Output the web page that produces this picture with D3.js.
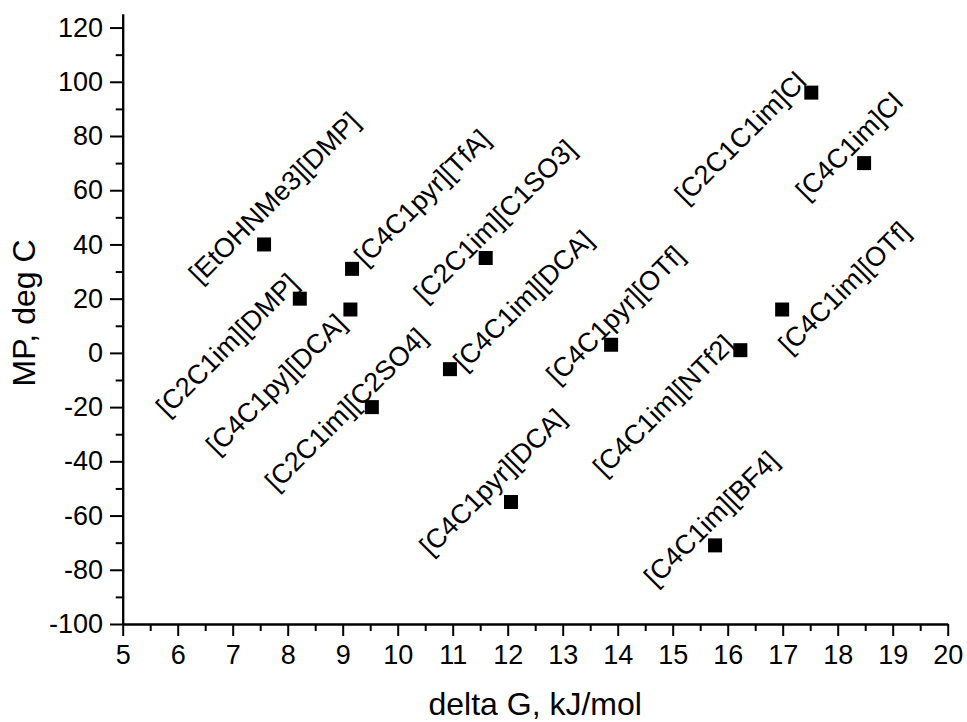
<!DOCTYPE html>
<html>
<head>
<meta charset="utf-8">
<script src="https://cdnjs.cloudflare.com/ajax/libs/d3/7.8.5/d3.min.js"></script>
<style>
  body { margin: 0; background: #fff; }
  svg text { font-family: "Liberation Sans", Arial, sans-serif; fill: #000; }
  .axis path, .axis line { stroke: #000; stroke-width: 2px; }
</style>
</head>
<body>
<div id="chart"></div>
<script>
// Data
const compounds = [
  "[EtOHNMe3][DMP]", "[C2C1im][DMP]", "[C4C1pyr][TfA]", "[C4C1py][DCA]",
  "[C2C1im][C2SO4]", "[C4C1im][DCA]", "[C2C1im][C1SO3]", "[C4C1pyr][DCA]",
  "[C4C1pyr][OTf]", "[C4C1im][NTf2]", "[C4C1im][OTf]", "[C2C1C1im]Cl",
  "[C4C1im]Cl", "[C4C1im][BF4]"
];
const deltaG = [7.57, 8.22, 9.17, 9.14, 9.53, 10.95, 11.60, 12.06, 13.88, 16.23, 16.99, 17.52, 18.48, 15.77];
const meltingPoint = [40, 20, 31, 16, -20, -6, 35, -55, 3, 1, 16, 96, 70, -71];
const xTicks = [5, 6, 7, 8, 9, 10, 11, 12, 13, 14, 15, 16, 17, 18, 19, 20];
const yTicks = [-100, -80, -60, -40, -20, 0, 20, 40, 60, 80, 100, 120];

// label placement (pixel offset of label centre from its point)
const labelOffsets = [[10, -47], [-73, 46], [70, -71.5], [-74.5, 74.5], [-26, 2], [73, -69], [9, -37],
  [-18.5, -20], [4, -30], [-77, 55], [62, -22], [-71, 45], [-15, -17], [-4, -27]];

const W = 967, H = 722;
const margin = { top: 14, right: 19.3, bottom: 98, left: 122.7 };

const svg = d3.select("#chart").append("svg")
  .attr("width", W)
  .attr("height", H);

const x = d3.scaleLinear().domain([5, 20]).range([margin.left, W - margin.right]);
const y = d3.scaleLinear().domain([-100, 125]).range([H - margin.bottom, margin.top]);

const fmt = d => String(d); // plain hyphen minus like the original

// minor ticks
const xMinor = d3.range(5.5, 20, 1);
const yMinor = d3.range(-90, 125, 20);

svg.append("g")
  .attr("class", "axis")
  .attr("transform", `translate(0, ${H - margin.bottom})`)
  .call(d3.axisBottom(x).tickValues(xMinor).tickSize(7).tickSizeOuter(0).tickFormat(""));

svg.append("g")
  .attr("class", "axis")
  .attr("transform", `translate(${margin.left}, 0)`)
  .call(d3.axisLeft(y).tickValues(yMinor).tickSize(7).tickSizeOuter(0).tickFormat(""));

// major axes
svg.append("g")
  .attr("class", "axis")
  .attr("transform", `translate(0, ${H - margin.bottom})`)
  .call(d3.axisBottom(x).tickValues(xTicks).tickSize(12).tickSizeOuter(0).tickPadding(9).tickFormat(fmt));

svg.append("g")
  .attr("class", "axis")
  .attr("transform", `translate(${margin.left}, 0)`)
  .call(d3.axisLeft(y).tickValues(yTicks).tickSize(12.7).tickSizeOuter(0).tickPadding(7).tickFormat(fmt));

svg.selectAll(".axis text")
  .style("font-size", "27px")
  .style("font-family", "'Liberation Sans', Arial, sans-serif")
  .attr("fill", "#000");

// axis titles
svg.append("text")
  .attr("x", (x.range()[0] + x.range()[1]) / 2)
  .attr("y", 715)
  .attr("text-anchor", "middle")
  .style("font-size", "32px")
  .text("delta G, kJ/mol");

svg.append("text")
  .attr("transform", "translate(35, 313) rotate(-90)")
  .attr("text-anchor", "middle")
  .style("font-size", "32px")
  .text("MP, deg C");

// points
const pts = compounds.map((c, i) => ({ name: c, g: deltaG[i], mp: meltingPoint[i], off: labelOffsets[i] }));
const sq = 14;

svg.append("g")
  .selectAll("rect")
  .data(pts)
  .join("rect")
  .attr("x", d => x(d.g) - sq / 2)
  .attr("y", d => y(d.mp) - sq / 2)
  .attr("width", sq)
  .attr("height", sq)
  .attr("fill", "#000");

// rotated labels
svg.append("g")
  .selectAll("text")
  .data(pts)
  .join("text")
  .attr("transform", d => `translate(${x(d.g) + d.off[0]}, ${y(d.mp) + d.off[1]}) rotate(-45)`)
  .attr("text-anchor", "middle")
  .attr("dy", "0.35em")
  .style("font-size", "27px")
  .text(d => d.name);
</script>
</body>
</html>
